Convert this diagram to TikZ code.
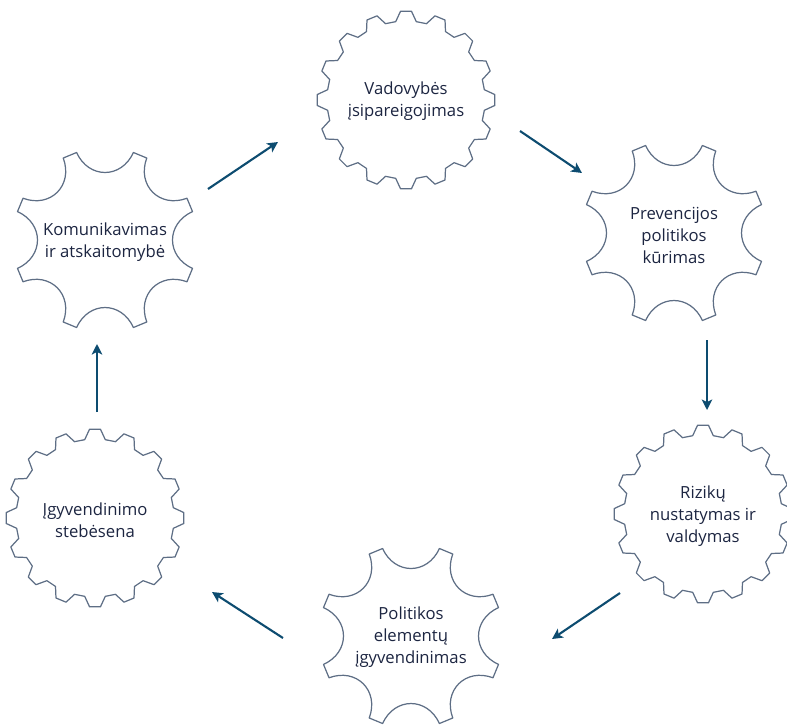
\documentclass[tikz,border=0pt]{standalone}
\usepackage{fontspec}
\setmainfont{Open Sans}
\usepackage{xcolor}
\usetikzlibrary{arrows.meta}
\definecolor{gearcol}{HTML}{5E6E85}
\definecolor{textcol}{HTML}{1C2541}
\definecolor{arrowcol}{HTML}{0D4C70}

\begin{document}
\begin{tikzpicture}[x=0.02cm, y=-0.02cm,
    gearline/.style={draw=gearcol, line width=0.7pt, line join=round},
    gearText/.style={text=textcol, align=center, font=\fontsize{9.5}{12.5}\selectfont},
    flow/.style={draw=arrowcol, line width=1.2pt, -{Stealth[length=6pt,width=6pt,inset=1.5pt]}}]
    \useasboundingbox (0,0) rectangle (787,724);

    % Gears with small teeth
    \foreach \cx/\cy in {406/100, 703/514, 95/518} {
        \draw[gearline, shift={(\cx,\cy)}] (-3.5:89)
            \foreach \k in {0,...,15} {
                -- (\k*22.5-3.5:89) -- (\k*22.5+3.5:89)
                -- (\k*22.5+7.5:79) -- (\k*22.5+15:79)
            } -- cycle;
    }

    % Gears with big lobes
    \foreach \cx/\cy in {674/233, 411/636, 105/240} {
        \draw[gearline, shift={(\cx,\cy)}] (18:92)
            \foreach \k in {0,...,7} {
                -- (\k*45+18:92) -- (\k*45+27:92)
                .. controls (\k*45+30:63) and (\k*45+60:63) .. (\k*45+63:92)
            } -- cycle;
    }

    % Labels
    \node[gearText] (lead) at (406,101) {Vadovybės\\įsipareigojimas};
    \node[gearText] (policy) at (674,235) {Prevencijos\\politikos\\kūrimas};
    \node[gearText] (risk) at (703,516) {Rizikų\\nustatymas ir\\valdymas};
    \node[gearText] (implement) at (411,637) {Politikos\\elementų\\įgyvendinimas};
    \node[gearText] (monitor) at (95,520) {Įgyvendinimo\\stebėsena};
    \node[gearText] (comm) at (105,242) {Komunikavimas\\ir atskaitomybė};

    % Arrow ends
    \coordinate (a1s) at (208,189); \coordinate (a1e) at (278,142);
    \coordinate (a2s) at (520,131); \coordinate (a2e) at (582,173);
    \coordinate (a3s) at (707,340); \coordinate (a3e) at (707,410);
    \coordinate (a4s) at (620,593); \coordinate (a4e) at (552,639);
    \coordinate (a5s) at (283,638); \coordinate (a5e) at (212,592);
    \coordinate (a6s) at (97,412);  \coordinate (a6e) at (97,344);

    % Cycle arrows
    \draw[flow] (a1s) -- (a1e);
    \draw[flow] (a2s) -- (a2e);
    \draw[flow] (a3s) -- (a3e);
    \draw[flow] (a4s) -- (a4e);
    \draw[flow] (a5s) -- (a5e);
    \draw[flow] (a6s) -- (a6e);
\end{tikzpicture}
\end{document}
